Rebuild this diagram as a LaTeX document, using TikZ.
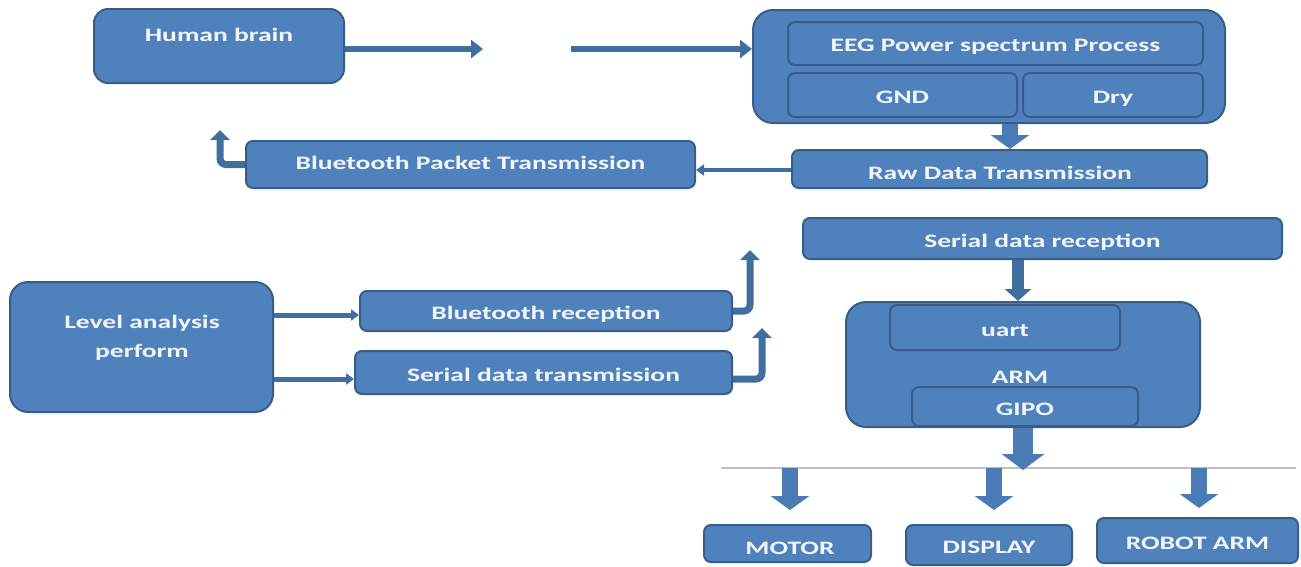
\documentclass[tikz,border=0pt]{standalone}
\usepackage{fontspec}
\setmainfont{Carlito}[FakeStretch=1.45]
\usetikzlibrary{arrows.meta}
\definecolor{boxfill}{HTML}{4F81BD}
\definecolor{boxdraw}{HTML}{385D8A}
\definecolor{arrc}{HTML}{3F6E9F}
\definecolor{blockc}{HTML}{4A7BB5}
\definecolor{txtc}{HTML}{F2F5FA}
\definecolor{sepgray}{HTML}{BFBFBF}
\begin{document}
\begin{tikzpicture}[x=1pt,y=-1pt,
  box/.style={draw=boxdraw, fill=boxfill, line width=2pt, rounded corners=7pt, inner sep=0pt,
    text=txtc, font=\bfseries\fontsize{19}{22}\selectfont, text height=17pt, text depth=0pt},
  lbl/.style={text=txtc, font=\bfseries\fontsize{19}{29}\selectfont, inner sep=0pt, align=center},
  thinarr/.style={draw=arrc, line width=6pt, -{Triangle[width=18pt,length=12pt]}},
  slimarr/.style={draw=arrc, line width=4pt, -{Triangle[width=11pt,length=8pt]}},
  elbow/.style={draw=arrc, line width=7pt, rounded corners=6pt, -{Triangle[width=19pt,length=10pt]}},
  midarr/.style={draw=arrc, line width=12pt, -{Triangle[width=26pt,length=12pt]}},
  blockarr/.style={draw=blockc, line width=16pt, -{Triangle[width=38pt,length=14pt]}},
  bigarr/.style={draw=blockc, line width=20pt, -{Triangle[width=42pt,length=16pt]}},
]
\useasboundingbox (0,0) rectangle (1301,566);

% boxes
\node[box, rounded corners=14pt, minimum width=250pt, minimum height=74pt] (brain) at (219,46) {};
\node[lbl] (brainT) at (219,35) {Human brain};

\node[box, rounded corners=20pt, minimum width=472pt, minimum height=113pt] (eeg) at (989,66.5) {};
\node[box, minimum width=415pt, minimum height=43pt, text height=15pt] (eegp) at (995.5,43.5) {EEG Power spectrum Process};
\node[box, minimum width=229pt, minimum height=44pt] (gnd) at (902.5,95) {GND};
\node[box, minimum width=180pt, minimum height=44pt] (dry) at (1113,95) {Dry};

\node[box, minimum width=415pt, minimum height=38pt] (raw) at (999.5,169) {};
\node[lbl] (rawT) at (1000,173) {Raw Data Transmission};

\node[box, minimum width=449pt, minimum height=47pt, text height=13pt, text depth=4pt] (btp) at (470.5,164.5) {Bluetooth Packet Transmission};

\node[box, rounded corners=18pt, minimum width=263pt, minimum height=130pt] (level) at (141.5,347) {};
\node[lbl] (levelT) at (142,338) {Level analysis\\perform};

\node[box, minimum width=372pt, minimum height=40pt] (btr) at (546,311) {Bluetooth reception};
\node[box, minimum width=377pt, minimum height=43pt] (sdt) at (543.5,372.5) {Serial data transmission};

\node[box, minimum width=479pt, minimum height=41pt] (sdr) at (1042.5,238.5) {Serial data reception};

\node[box, rounded corners=20pt, minimum width=354pt, minimum height=125pt] (arm) at (1023,364.5) {};
\node[box, minimum width=230pt, minimum height=45pt] (uart) at (1005,327.5) {uart};
\node[lbl] (armT) at (1020,377) {ARM};
\node[box, minimum width=226pt, minimum height=39pt] (gipo) at (1025,406.5) {GIPO};

\node[box, minimum width=167pt, minimum height=37pt] (motor) at (787.5,543.5) {};
\node[lbl] (motorT) at (790,548) {MOTOR};
\node[box, minimum width=166pt, minimum height=40pt] (display) at (989,545) {DISPLAY};
\node[box, minimum width=201pt, minimum height=45pt] (robot) at (1197.5,540.5) {ROBOT ARM};

% free ends
\coordinate (gapL) at (483,49);
\coordinate (gapR) at (571,49);
\coordinate (d1) at (1010,0);
\coordinate (r1) at (0,170);
\coordinate (e1) at (220,130);
\coordinate (l1) at (0,315);
\coordinate (l2) at (0,379);
\coordinate (e2) at (750,250);
\coordinate (e3) at (762,328);
\coordinate (d2) at (1018,0);
\coordinate (bus) at (1023,470);
\coordinate (busL) at (721,468);
\coordinate (busR) at (1296,468);
\coordinate (m0) at (790,468);
\coordinate (m1) at (790,510);
\coordinate (p0) at (994,468);
\coordinate (p1) at (994,510);
\coordinate (q0) at (1199,468);
\coordinate (q1) at (1199,508);

% connectors
\draw[thinarr] (brain.east |- gapL) -- (gapL);
\draw[thinarr] (gapR) -- (eeg.west |- gapR);
\draw[blockarr] (eeg.south -| d1) -- (raw.north -| d1);
\draw[slimarr] (raw.west |- r1) -- (btp.east |- r1);
\draw[elbow] (btp.west) -- (btp.west -| e1) -- (e1);
\draw[slimarr, line width=5pt] (level.east |- l1) -- (btr.west |- l1);
\draw[slimarr, line width=5pt] (level.east |- l2) -- (sdt.west |- l2);
\draw[elbow] (btr.east) -- (btr.east -| e2) -- (e2);
\draw[elbow] (sdt.east |- l2) -- (e3 |- l2) -- (e3);
\draw[midarr] (sdr.south -| d2) -- (arm.north -| d2);
\draw[sepgray, line width=2pt] (busL) -- (busR);
\draw[bigarr] (arm.south -| bus) -- (bus);
\draw[blockarr] (m0) -- (m1);
\draw[blockarr] (p0) -- (p1);
\draw[blockarr] (q0) -- (q1);
\end{tikzpicture}
\end{document}
